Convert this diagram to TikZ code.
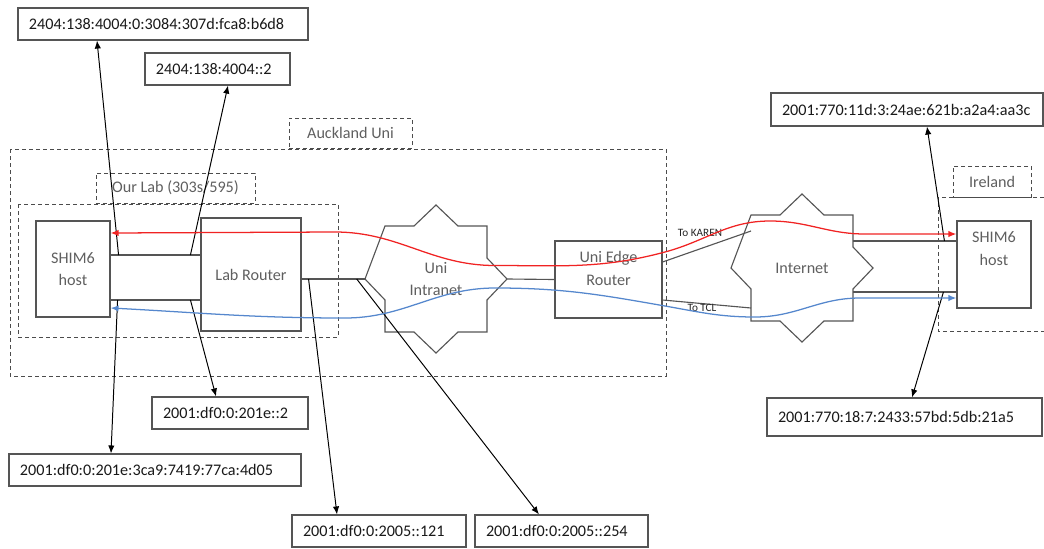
\documentclass[tikz,border=0pt]{standalone}
\usepackage{fontspec}
\setmainfont{Carlito}
\usetikzlibrary{arrows.meta}

\definecolor{boxgray}{RGB}{85,85,85}
\definecolor{txtgray}{RGB}{95,95,95}
\definecolor{pathred}{RGB}{240,35,35}
\definecolor{pathblue}{RGB}{85,135,205}

% eight point "network" outline round a netcloud node
\newcommand{\cloudstar}[1]{%
  \draw[box] ([shift={(-51,-53)}]#1.center) -- ++(29,0) -- ++(22,-21) -- ++(22,21)
    -- ++(29,0) -- ++(0,32) -- ++(20,21) -- ++(-20,21) -- ++(0,32) -- ++(-29,0)
    -- ++(-22,21) -- ++(-22,-21) -- ++(-29,0) -- ++(0,-32) -- ++(-20,-21) -- cycle;}

\begin{document}
\begin{tikzpicture}[x=0.25mm, y=-0.25mm, >={Latex[length=2mm,width=1.6mm]},
  font=\fontsize{11.5}{16}\selectfont]

\tikzset{
  box/.style={draw=boxgray, line width=0.8pt},
  device/.style={box, text=txtgray, align=center, inner sep=0pt},
  devlabel/.style={text=txtgray, align=center, inner sep=0pt},
  addr/.style={box, text=black!90, align=left, inner xsep=2.75mm, inner ysep=0pt, minimum height=8mm},
  region/.style={draw=black!70, dash pattern=on 1mm off 0.75mm, line width=0.6pt},
  tag/.style={region, text=txtgray, inner sep=0pt, minimum height=7.5mm},
  netcloud/.style={minimum width=35.5mm, minimum height=37mm, inner sep=0pt, text=txtgray, align=center},
  link/.style={->, line width=0.7pt},
  flow/.style={<->, line width=0.9pt},
  small/.style={font=\fontsize{8}{9}\selectfont, text=black!85}
}

\useasboundingbox (0,0) rectangle (1044,548);

% Regions
\draw[region] (10,149) rectangle (666,376);
\node[tag, minimum width=30.75mm] (auckland) at (350.5,133) {Auckland Uni};
\draw[region] (18,204) rectangle (338,337);
\node[tag, minimum width=39.75mm] (ourlab) at (175.5,188) {Our Lab (303s/595)};
\draw[region] (1044,197) -- (938,197) -- (938,331) -- (1044,331);
\node[tag, minimum width=19.5mm, minimum height=7.75mm] (ireland) at (992,181.5) {Ireland};

% Devices
\node[device, minimum width=18.5mm, minimum height=24mm] (lhost) at (73,269) {SHIM6\\host};
\node[device, minimum width=25mm, minimum height=28.25mm] (labr) at (251,274.5) {Lab Router};
\node[netcloud] (intra) at (436,279) {Uni\\Intranet};
\cloudstar{intra}
\node[device, minimum width=26.75mm, minimum height=19.25mm,
  label={[devlabel, yshift=2.75mm]center:Uni Edge\\Router}] (edge) at (608.5,279.5) {};
\node[netcloud] (inet) at (802,268) {Internet};
\cloudstar{inet}
\node[device, minimum width=18.5mm, minimum height=21.75mm,
  label={[devlabel, yshift=4mm]center:SHIM6\\host}] (rhost) at (994,264.5) {};

% Wiring
\draw[box] (lhost.east |- 0,255) coordinate (lp1) -- (labr.west |- 0,255) coordinate (lp2);
\draw[box] (lhost.east |- 0,300) coordinate (lp3) -- (labr.west |- 0,300) coordinate (lp4);
\draw[box] (labr.east |- intra.west) coordinate (lr) -- (intra.west);
\draw[box] (intra.east) -- (edge.west);
\draw[box] ([shift={(0,-17.5)}]edge.east) -- ([shift={(-51,-37)}]inet.center);
\draw[box] ([shift={(0,20.5)}]edge.east) -- ([shift={(-51,40)}]inet.center);
\node[small] (karen) at (700,233) {To KAREN};
\node[small] (tcl) at (702,308) {To TCL};
\draw[box] ([shift={(51,-27)}]inet.center) -- (rhost.west |- 0,241) coordinate (rp1);
\draw[box] ([shift={(51,24)}]inet.center) -- (rhost.west |- 0,292) coordinate (rp2);

% Addresses
\node[addr, text width=67mm] (a1) at (163,24) {2404:138:4004:0:3084:307d:fca8:b6d8};
\node[addr, text width=30.75mm] (a2) at (217.5,69) {2404:138:4004::2};
\node[addr, text width=33.5mm] (a3) at (230,413) {2001:df0:0:201e::2};
\node[addr, text width=67.5mm] (a4) at (155,470) {2001:df0:0:201e:3ca9:7419:77ca:4d05};
\node[addr, text width=38mm] (a5) at (379,531) {2001:df0:0:2005::121};
\node[addr, text width=37.75mm] (a6) at (561.5,531) {2001:df0:0:2005::254};
\node[addr, text width=62.5mm, minimum height=8.25mm] (a7) at (907,109.5) {2001:770:11d:3:24ae:621b:a2a4:aa3c};
\node[addr, text width=63.25mm, minimum height=9.5mm] (a8) at (904.5,417) {2001:770:18:7:2433:57bd:5db:21a5};

\draw[link] ([xshift=2mm]lp1) -- (a1.south -| 97,0);
\draw[link] ([xshift=-2.5mm]lp2) -- (a2.south -| 228,0);
\draw[link] ([xshift=-2.5mm]lp4) -- (a3.north -| 216,0);
\draw[link] ([xshift=1.75mm]lp3) -- (a4.north -| 111,0);
\draw[link] ([xshift=1.75mm]lr) -- (a5.north -| 337,0);
\draw[link] ([xshift=-2mm]intra.west) -- (a6.north -| 539,0);
\draw[link] ([xshift=-3mm]rp1) -- (a7.south -| 927,0);
\draw[link] ([xshift=-3.25mm]rp2) -- (a8.north -| 912,0);

% Paths through KAREN and TCL
\draw[flow, pathred] (lhost.east |- 0,233) -- (335,232) to[out=0,in=180] (495,265.5)
  to[out=0,in=195] (665,252) to[out=15,in=180] (770,221) to[out=0,in=180] (865,234)
  -- (rhost.west |- 0,234);
\draw[flow, pathblue] (lhost.east |- 0,308) to[out=-3,in=180] (345,318) to[out=0,in=180] (495,288)
  to[out=0,in=170] (665,306) to[out=-10,in=180] (755,317) to[out=0,in=180] (860,298)
  -- (rhost.west |- 0,298);

\end{tikzpicture}
\end{document}
